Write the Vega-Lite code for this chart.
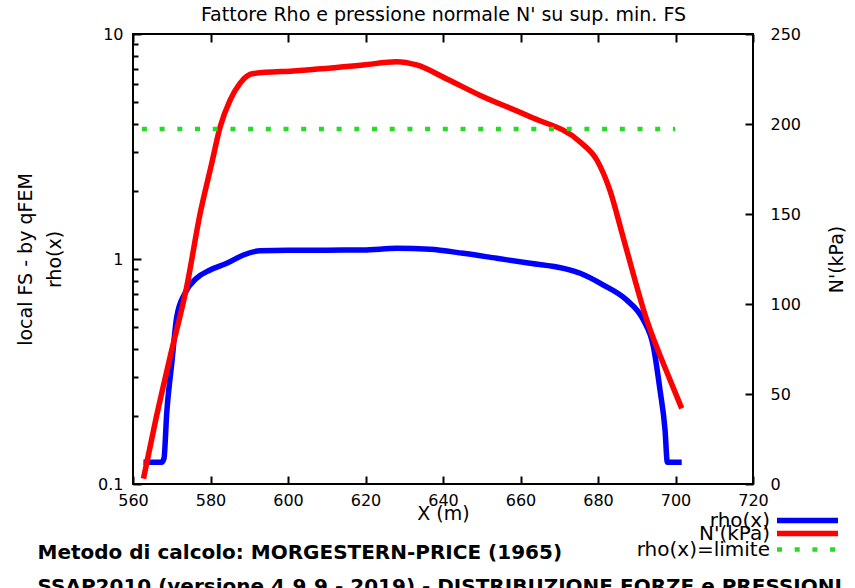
{
  "$schema": "https://vega.github.io/schema/vega-lite/v6.json",
  "width": 620,
  "height": 450,
  "autosize": {"type": "none"},
  "padding": {"left": 133, "top": 34, "right": 102, "bottom": 104},
  "background": "white",
  "config": {
    "view": {"stroke": "black", "strokeWidth": 2},
    "axis": {
      "labelFont": "DejaVu Sans",
      "labelFontSize": 16,
      "labelColor": "black",
      "titleFont": "DejaVu Sans",
      "titleFontSize": 19,
      "titleFontWeight": "normal",
      "titleColor": "black"
    },
    "legend": {
      "orient": "none",
      "legendX": 664.5,
      "title": null,
      "padding": 0,
      "symbolType": "M-6.1,0H6.1",
      "symbolSize": 100,
      "symbolStrokeWidth": 5.5,
      "labelAlign": "right",
      "labelOffset": -47.5,
      "labelFont": "DejaVu Sans",
      "labelFontSize": 20,
      "labelColor": "black"
    }
  },
  "data": {
    "values": [
      {"serie": "rho(x)", "x": 562.7, "v": 0.125},
      {"serie": "rho(x)", "x": 567.4, "v": 0.125},
      {"serie": "rho(x)", "x": 568.0, "v": 0.13},
      {"serie": "rho(x)", "x": 568.7, "v": 0.206},
      {"serie": "rho(x)", "x": 570.0, "v": 0.344},
      {"serie": "rho(x)", "x": 571.3, "v": 0.554},
      {"serie": "rho(x)", "x": 573.4, "v": 0.704},
      {"serie": "rho(x)", "x": 576.4, "v": 0.821},
      {"serie": "rho(x)", "x": 579.9, "v": 0.894},
      {"serie": "rho(x)", "x": 584.2, "v": 0.957},
      {"serie": "rho(x)", "x": 588.5, "v": 1.042},
      {"serie": "rho(x)", "x": 592.8, "v": 1.089},
      {"serie": "rho(x)", "x": 600.0, "v": 1.095},
      {"serie": "rho(x)", "x": 610.0, "v": 1.095},
      {"serie": "rho(x)", "x": 619.4, "v": 1.096},
      {"serie": "rho(x)", "x": 628.1, "v": 1.115},
      {"serie": "rho(x)", "x": 636.6, "v": 1.105},
      {"serie": "rho(x)", "x": 645.2, "v": 1.06},
      {"serie": "rho(x)", "x": 653.9, "v": 1.007},
      {"serie": "rho(x)", "x": 662.5, "v": 0.957},
      {"serie": "rho(x)", "x": 671.1, "v": 0.909},
      {"serie": "rho(x)", "x": 675.4, "v": 0.864},
      {"serie": "rho(x)", "x": 681.4, "v": 0.766},
      {"serie": "rho(x)", "x": 687.4, "v": 0.657},
      {"serie": "rho(x)", "x": 691.7, "v": 0.536},
      {"serie": "rho(x)", "x": 694.3, "v": 0.408},
      {"serie": "rho(x)", "x": 696.0, "v": 0.262},
      {"serie": "rho(x)", "x": 697.3, "v": 0.174},
      {"serie": "rho(x)", "x": 697.9, "v": 0.125},
      {"serie": "rho(x)", "x": 701.6, "v": 0.125},
      {"serie": "N'(kPa)", "x": 562.7, "v": 3},
      {"serie": "N'(kPa)", "x": 566.0, "v": 37},
      {"serie": "N'(kPa)", "x": 569.5, "v": 70},
      {"serie": "N'(kPa)", "x": 573.9, "v": 110},
      {"serie": "N'(kPa)", "x": 577.3, "v": 150},
      {"serie": "N'(kPa)", "x": 580.3, "v": 178},
      {"serie": "N'(kPa)", "x": 582.5, "v": 198.5},
      {"serie": "N'(kPa)", "x": 585.0, "v": 213},
      {"serie": "N'(kPa)", "x": 587.6, "v": 222.6},
      {"serie": "N'(kPa)", "x": 591.0, "v": 228},
      {"serie": "N'(kPa)", "x": 602.2, "v": 229.6},
      {"serie": "N'(kPa)", "x": 619.4, "v": 232.8},
      {"serie": "N'(kPa)", "x": 628.0, "v": 234.6},
      {"serie": "N'(kPa)", "x": 633.2, "v": 232.8},
      {"serie": "N'(kPa)", "x": 641.0, "v": 225},
      {"serie": "N'(kPa)", "x": 649.5, "v": 216},
      {"serie": "N'(kPa)", "x": 662.5, "v": 204},
      {"serie": "N'(kPa)", "x": 675.4, "v": 190},
      {"serie": "N'(kPa)", "x": 679.7, "v": 180},
      {"serie": "N'(kPa)", "x": 683.1, "v": 163},
      {"serie": "N'(kPa)", "x": 686.5, "v": 137},
      {"serie": "N'(kPa)", "x": 692.6, "v": 91},
      {"serie": "N'(kPa)", "x": 698.6, "v": 57.8},
      {"serie": "N'(kPa)", "x": 701.6, "v": 42},
      {"serie": "rho(x)=limite", "x": 562.3, "v": 3.78},
      {"serie": "rho(x)=limite", "x": 699.9, "v": 3.78}
    ]
  },
  "layer": [
    {
      "transform": [{"filter": {"field": "serie", "equal": "rho(x)"}}],
      "mark": {"type": "line", "strokeWidth": 5.5, "interpolate": "monotone"},
      "encoding": {
        "x": {
          "field": "x", "type": "quantitative",
          "scale": {"domain": [560, 720], "nice": false, "zero": false},
          "axis": {
            "orient": "bottom",
            "values": [560, 580, 600, 620, 640, 660, 680, 700, 720],
            "grid": false, "domain": false,
            "ticks": true, "tickColor": "black", "tickWidth": 2, "tickSize": 8, "offset": -8,
            "labelFlush": false, "labelOverlap": false,
            "labelPadding": 8,
            "title": "X (m)",
            "titlePadding": -4
          }
        },
        "y": {
          "field": "v", "type": "quantitative",
          "scale": {"type": "log", "domain": [0.1, 10], "nice": false},
          "axis": {
            "orient": "left",
            "values": [0.1, 1, 10],
            "format": "~g",
            "grid": false, "domain": false,
            "ticks": true, "tickColor": "black", "tickWidth": 2, "tickSize": 8, "offset": -8,
            "labelFlush": false, "labelOverlap": false,
            "labelPadding": 10,
            "title": ["local FS - by qFEM", "rho(x)"],
            "titleAngle": -90,
            "titleLineHeight": 29,
            "titlePadding": 33
          }
        },
        "color": {
          "field": "serie", "type": "nominal",
          "scale": {"domain": ["rho(x)"], "range": ["#0000ff"]},
          "legend": {"legendY": 476.5}
        }
      }
    },
    {
      "transform": [{"filter": {"field": "serie", "equal": "N'(kPa)"}}],
      "mark": {"type": "line", "strokeWidth": 5.5, "interpolate": "monotone"},
      "encoding": {
        "x": {
          "field": "x", "type": "quantitative",
          "scale": {"domain": [560, 720], "nice": false, "zero": false},
          "axis": {
            "orient": "top",
            "values": [560, 580, 600, 620, 640, 660, 680, 700, 720],
            "grid": false, "domain": false,
            "ticks": true, "tickColor": "black", "tickWidth": 2, "tickSize": 8, "offset": -8,
            "labels": false,
            "title": "Fattore Rho e pressione normale N' su sup. min. FS",
            "titlePadding": 9
          }
        },
        "y": {
          "field": "v", "type": "quantitative",
          "scale": {"domain": [0, 250], "nice": false},
          "axis": {
            "orient": "right",
            "values": [0, 50, 100, 150, 200, 250],
            "grid": false, "domain": false,
            "ticks": true, "tickColor": "black", "tickWidth": 2, "tickSize": 8, "offset": -8,
            "labelFlush": false, "labelOverlap": false,
            "labelPadding": 17,
            "title": "N'(kPa)",
            "titleAngle": -90,
            "titlePadding": 46
          }
        },
        "stroke": {
          "field": "serie", "type": "nominal",
          "scale": {"domain": ["N'(kPa)"], "range": ["#ff0000"]},
          "legend": {"legendY": 489.5}
        }
      }
    },
    {
      "transform": [{"filter": {"field": "serie", "equal": "rho(x)=limite"}}],
      "mark": {"type": "line", "strokeWidth": 4.5, "color": "#22dd22"},
      "encoding": {
        "x": {
          "field": "x", "type": "quantitative",
          "scale": {"domain": [560, 720], "nice": false, "zero": false},
          "axis": {
            "orient": "bottom",
            "grid": false, "domain": false, "ticks": false, "labels": false,
            "title": ["Metodo di calcolo: MORGESTERN-PRICE (1965)", "SSAP2010 (versione 4.9.9 - 2019) - DISTRIBUZIONE FORZE e PRESSIONI"],
            "titleFont": "DejaVu Sans",
            "titleFontSize": 20,
            "titleFontWeight": "bold",
            "titleColor": "black",
            "titleAlign": "left",
            "titleAnchor": "start",
            "titleBaseline": "alphabetic",
            "titleLineHeight": 34,
            "titleX": -96,
            "titleY": 74
          }
        },
        "y": {
          "field": "v", "type": "quantitative",
          "scale": {"type": "log", "domain": [0.1, 10], "nice": false},
          "axis": {
            "orient": "left",
            "values": [0.2, 0.3, 0.4, 0.5, 0.6, 0.7, 0.8, 0.9, 2, 3, 4, 5, 6, 7, 8, 9],
            "grid": false, "domain": false,
            "ticks": true, "tickColor": "black", "tickWidth": 2, "tickSize": 5, "offset": -5,
            "labels": false,
            "title": null
          }
        },
        "strokeDash": {
          "field": "serie", "type": "nominal",
          "scale": {"domain": ["rho(x)=limite"], "range": [[5, 12.7]]},
          "legend": {"legendY": 505.5, "symbolStrokeColor": "#22dd22", "symbolStrokeWidth": 4.5}
        }
      }
    }
  ],
  "resolve": {
    "scale": {"y": "independent"},
    "axis": {"x": "independent", "y": "independent"}
  }
}
